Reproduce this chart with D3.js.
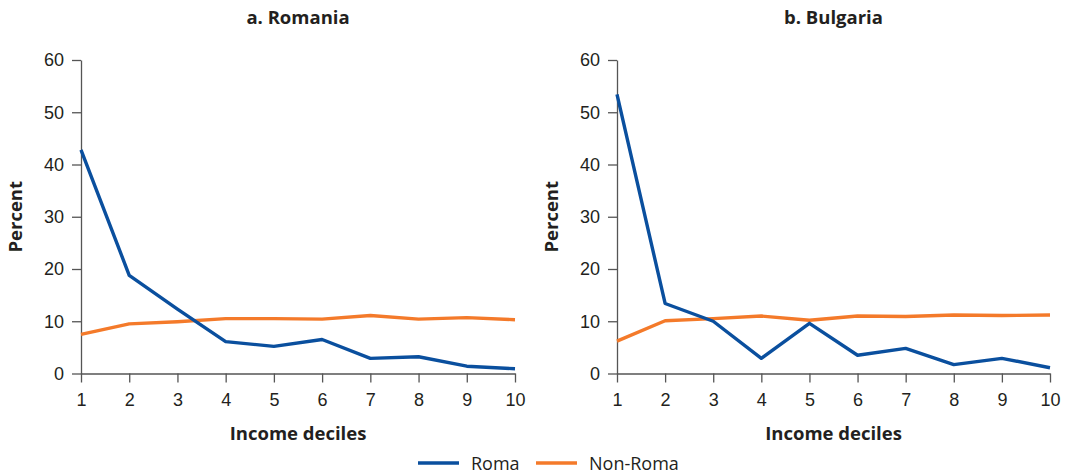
<!DOCTYPE html>
<html><head><meta charset="utf-8">
<script src="https://cdn.jsdelivr.net/npm/d3@7"></script>
<style>body{margin:0;background:#fff}svg{display:block;font-family:"Open Sans","Noto Sans",sans-serif}</style>
</head><body><svg id="c" width="1069" height="476"></svg>
<script>
const deciles = [1,2,3,4,5,6,7,8,9,10];
const yTicks = [0,10,20,30,40,50,60];
const romaniaRoma = [42.8,18.8,12.3,6.1,5.2,6.5,2.9,3.2,1.4,0.9];
const romaniaNonRoma = [7.5,9.5,9.9,10.5,10.5,10.4,11.1,10.4,10.7,10.3];
const bulgariaRoma = [53.4,13.4,10.0,2.9,9.6,3.5,4.8,1.7,2.9,1.1];
const bulgariaNonRoma = [6.2,10.1,10.5,11.0,10.2,11.0,10.9,11.2,11.1,11.2];
const panelTitles = ["a. Romania","b. Bulgaria"];
const seriesNames = ["Roma","Non-Roma"];
const colors = ["#0a4f9e","#f47a2a"];

const svg = d3.select("#c");
const panels = [
  {title: panelTitles[0], x0: 81, x1: 515, data: [romaniaRoma, romaniaNonRoma], labelX: 22},
  {title: panelTitles[1], x0: 617, x1: 1050, data: [bulgariaRoma, bulgariaNonRoma], labelX: 558}
];
const yTop = 60, yBot = 373.5;

panels.forEach(p => {
  const x = d3.scaleLinear().domain([1,10]).range([p.x0, p.x1]);
  const y = d3.scaleLinear().domain([0,60]).range([yBot, yTop]);
  const g = svg.append("g");
  const xa = g.append("g").attr("transform",`translate(0,${yBot})`)
    .call(d3.axisBottom(x).tickValues(deciles).tickSize(9).tickSizeOuter(0).tickPadding(11).tickFormat(d3.format("d")));
  const ya = g.append("g").attr("transform",`translate(${p.x0},0)`)
    .call(d3.axisLeft(y).tickValues(yTicks).tickSize(9).tickSizeOuter(0).tickPadding(8));
  [xa,ya].forEach(a => {
    a.selectAll("path,line").attr("stroke","#555").attr("stroke-width",1.3);
    a.selectAll("text").attr("fill","#231f20").style("font-size","18px");
  });
  const line = d3.line().x((d,i)=>x(deciles[i])).y(d=>y(d));
  p.data.slice().reverse().forEach((s,k) => {
    const idx = p.data.length-1-k;
    g.append("path").datum(s).attr("d",line).attr("fill","none")
      .attr("stroke",colors[idx]).attr("stroke-width",3.4).attr("stroke-linejoin","round");
  });
  g.append("text").attr("x",(p.x0+p.x1)/2).attr("y",24).attr("text-anchor","middle")
    .attr("font-weight","bold").style("font-size","18.5px").attr("fill","#231f20").text(p.title);
  g.append("text").attr("x",(p.x0+p.x1)/2).attr("y",439.5).attr("text-anchor","middle")
    .attr("font-weight","bold").style("font-size","18.5px").attr("fill","#231f20").text("Income deciles");
  g.append("text").attr("transform",`translate(${p.labelX},${(yTop+yBot)/2}) rotate(-90)`)
    .attr("text-anchor","middle").attr("font-weight","bold").style("font-size","18.5px").attr("fill","#231f20").text("Percent");
});

const leg = svg.append("g");
const legX = [418, 536];
seriesNames.forEach((n,i) => {
  leg.append("line").attr("x1",legX[i]).attr("x2",legX[i]+41).attr("y1",463).attr("y2",463)
    .attr("stroke",colors[i]).attr("stroke-width",3.4);
  leg.append("text").attr("x",legX[i]+53).attr("y",469.5).style("font-size","18px").attr("fill","#231f20").text(n);
});
</script></body></html>
